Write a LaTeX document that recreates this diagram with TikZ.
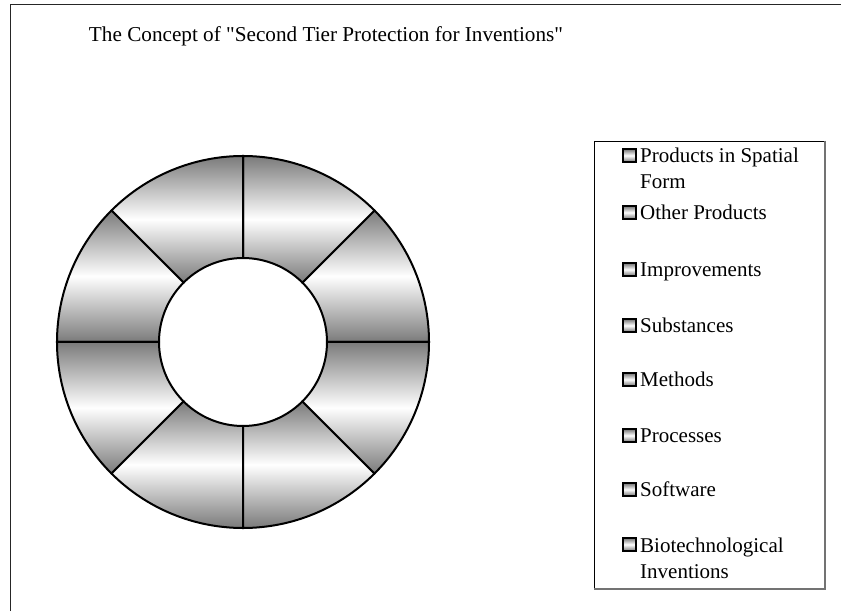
\documentclass[tikz,border=0pt]{standalone}
\usepackage{fontspec}
\setmainfont{Liberation Serif}
\usetikzlibrary{positioning}
\pgfdeclarelayer{nodelayer}
\pgfdeclarelayer{edgelayer}
\pgfsetlayers{edgelayer,nodelayer,main}
\tikzstyle{segment}=[draw=black, line width=2pt, top color=black!52, bottom color=black!52, middle color=white]
\tikzstyle{key}=[draw=black, line width=1.5pt, minimum size=13pt, inner sep=0pt, top color=black!55, bottom color=black!55, middle color=white]
\tikzstyle{entry}=[anchor=base west, align=left, inner sep=0pt, font=\fontsize{21}{26}\selectfont]
\tikzstyle{legend box}=[draw=black, line width=0.6pt, minimum width=231pt, minimum height=448pt, inner sep=0pt]
\tikzstyle{shadow edge}=[draw=black!55, line width=1.8pt]

\begin{document}
\begin{tikzpicture}[x=1pt, y=1pt]
        	\useasboundingbox (0,0) rectangle (841,611);
        	\coordinate (c) at (243,269);
        	\begin{pgfonlayer}{edgelayer}
        		\draw [black!85, line width=1pt] (10.5,0) -- (10.5,606.5) -- (841,606.5);
        		\foreach \a in {0,45,...,315}
        			\draw [style=segment, shift={(c)}] (\a:186pt) arc[start angle=\a, delta angle=45, radius=186pt]
        				-- ({\a+45}:84pt) arc[start angle={\a+45}, delta angle=-45, radius=84pt] -- cycle;
        	\end{pgfonlayer}
        	\begin{pgfonlayer}{nodelayer}
        		\node [font=\fontsize{21.2}{26}\selectfont, anchor=base] (title) at (326,569) {The Concept of \textquotedbl Second Tier Protection for Inventions\textquotedbl};
        		\node [style=legend box] (legend) at (709.5,246) {};
        		\node [style=key] (k0) at (629.5,455.5) {};
        		\node [style=key] (k1) at (629.5,398.5) {};
        		\node [style=key] (k2) at (629.5,341.5) {};
        		\node [style=key] (k3) at (629.5,285.5) {};
        		\node [style=key] (k4) at (629.5,231.5) {};
        		\node [style=key] (k5) at (629.5,175.5) {};
        		\node [style=key] (k6) at (629.5,121.5) {};
        		\node [style=key] (k7) at (629.5,66.5) {};
        		% two-line entries sit on the baseline of their last line
        		\node [style=entry] (t0) at (640,422) {Products in Spatial\\Form};
        		\node [style=entry] (t1) at (640,391) {Other Products};
        		\node [style=entry] (t2) at (640,334) {Improvements};
        		\node [style=entry] (t3) at (640,278) {Substances};
        		\node [style=entry] (t4) at (640,224) {Methods};
        		\node [style=entry] (t5) at (640,168) {Processes};
        		\node [style=entry] (t6) at (640,114) {Software};
        		\node [style=entry] (t7) at (640,33) {Biotechnological\\Inventions};
        	\end{pgfonlayer}
        	\draw [style=shadow edge] (legend.north east) -- (legend.south east) -- (legend.south west);
\end{tikzpicture}
\end{document}
